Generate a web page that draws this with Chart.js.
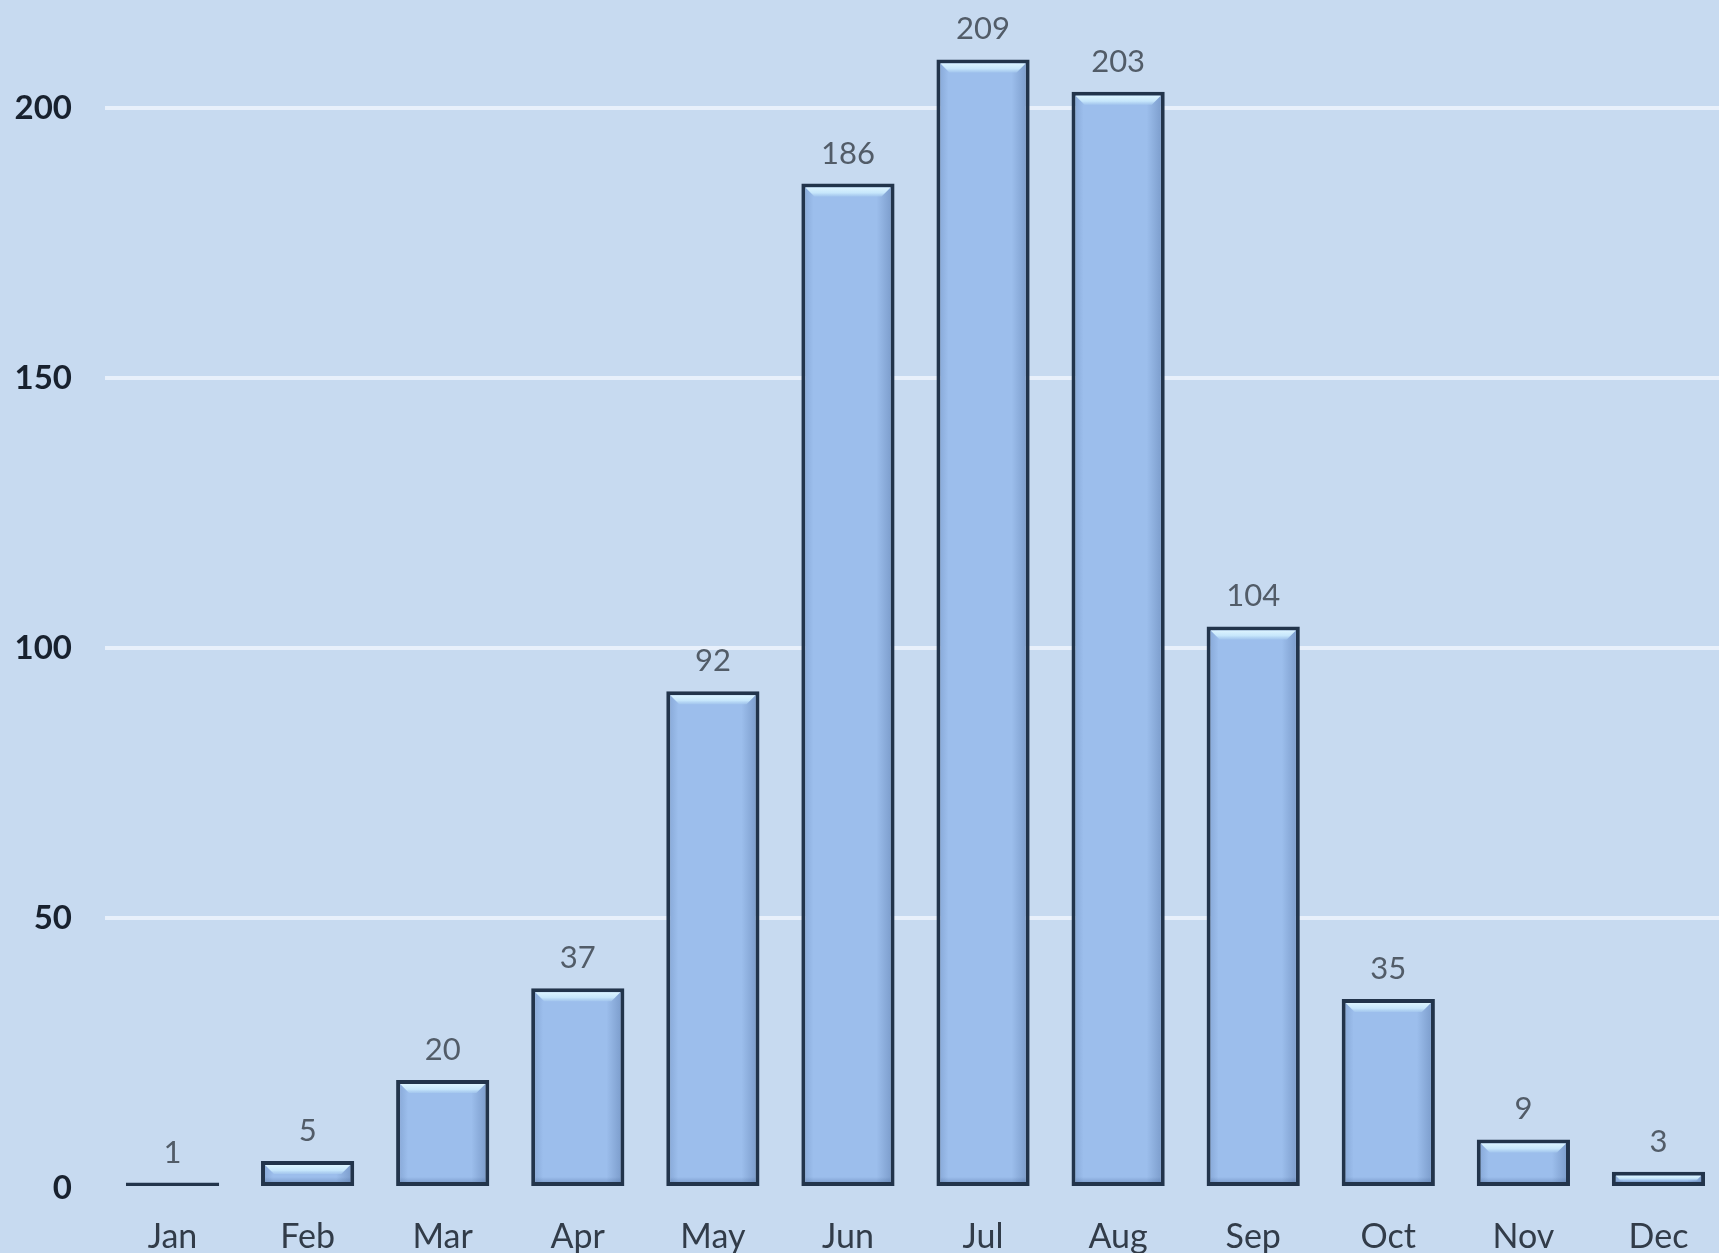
<!DOCTYPE html>
<html>
<head>
<meta charset="utf-8">
<script src="https://cdn.jsdelivr.net/npm/chart.js@4/dist/chart.umd.min.js"></script>
<style>
  html, body { margin: 0; padding: 0; overflow: hidden; background: #c7daf0; }
  #wrap { width: 1726px; height: 1253px; position: relative; }
</style>
</head>
<body>
<div id="wrap"><canvas id="chart"></canvas></div>
<script>
// Monthly counts
const months = ['Jan', 'Feb', 'Mar', 'Apr', 'May', 'Jun', 'Jul', 'Aug', 'Sep', 'Oct', 'Nov', 'Dec'];
const counts = [1, 5, 20, 37, 92, 186, 209, 203, 104, 35, 9, 3];
const yTicks = [0, 50, 100, 150, 200];

// Value labels above each bar
const valueLabels = {
  id: 'valueLabels',
  afterDatasetsDraw(chart) {
    const ctx = chart.ctx;
    const meta = chart.getDatasetMeta(0);
    ctx.save();
    ctx.font = '31px Lato';
    ctx.fillStyle = '#525c68';
    ctx.textAlign = 'center';
    ctx.textBaseline = 'middle';
    meta.data.forEach((bar, i) => {
      const p = bar.getProps(['x', 'y'], true);
      ctx.fillText(String(counts[i]), p.x, p.y - 30);
    });
    ctx.restore();
  }
};

// Bevel shading inside each bar: light top edge, darker right edge
const barBevel = {
  id: 'barBevel',
  afterDatasetsDraw(chart) {
    const ctx = chart.ctx;
    const meta = chart.getDatasetMeta(0);
    const bw = 4;
    ctx.save();
    meta.data.forEach((bar) => {
      const p = bar.getProps(['x', 'y', 'base', 'width'], true);
      const l = p.x - p.width / 2 + bw, r = p.x + p.width / 2 - bw;
      const t = Math.min(p.y, p.base) + bw, b = Math.max(p.y, p.base) - bw;
      if (b - t < 1) return;
      // right-side shade
      let g = ctx.createLinearGradient(r - 14, 0, r, 0);
      g.addColorStop(0, 'rgba(50,80,130,0)');
      g.addColorStop(1, 'rgba(50,80,130,0.28)');
      ctx.fillStyle = g;
      ctx.fillRect(r - 14, t, 14, b - t);
      // left-side soft shade
      g = ctx.createLinearGradient(l, 0, l + 8, 0);
      g.addColorStop(0, 'rgba(60,90,140,0.18)');
      g.addColorStop(1, 'rgba(60,90,140,0)');
      ctx.fillStyle = g;
      ctx.fillRect(l, t, 8, b - t);
      // bottom shade
      const bh = Math.min(5, (b - t) * 0.3);
      g = ctx.createLinearGradient(0, b - bh, 0, b);
      g.addColorStop(0, 'rgba(50,80,130,0)');
      g.addColorStop(1, 'rgba(50,80,130,0.25)');
      ctx.fillStyle = g;
      ctx.fillRect(l, b - bh, r - l, bh);
      // top highlight bevel
      const h = Math.min(9, (b - t) * 0.7);
      g = ctx.createLinearGradient(0, t, 0, t + h);
      g.addColorStop(0, '#dcf4ff');
      g.addColorStop(0.6, '#c6e6fb');
      g.addColorStop(1, 'rgba(170,205,240,0.6)');
      ctx.fillStyle = g;
      ctx.beginPath();
      ctx.moveTo(l, t);
      ctx.lineTo(r, t);
      ctx.lineTo(r - h, t + h);
      ctx.lineTo(l + h, t + h);
      ctx.closePath();
      ctx.fill();
    });
    ctx.restore();
  }
};

new Chart(document.getElementById('chart'), {
  type: 'bar',
  data: {
    labels: months,
    datasets: [{
      data: counts,
      backgroundColor: '#9cbeec',
      borderColor: '#22344b',
      borderWidth: 4,
      borderSkipped: false,
      barPercentage: 0.69,
      categoryPercentage: 1
    }]
  },
  options: {
    responsive: true,
    maintainAspectRatio: false,
    animation: false,
    layout: { padding: 0 },
    plugins: {
      legend: { display: false },
      tooltip: { enabled: false }
    },
    scales: {
      x: {
        offset: true,
        grid: { display: false, drawTicks: false },
        border: { display: false },
        ticks: {
          color: '#323c49',
          font: { family: 'Lato', size: 34 },
          padding: 29,
          maxRotation: 0
        },
        afterFit(scale) {
          scale.height = 65;
          scale.paddingLeft = 0;
          scale.paddingRight = 0;
        }
      },
      y: {
        min: 0,
        max: 220,
        afterBuildTicks(scale) {
          scale.ticks = yTicks.map(v => ({ value: v }));
        },
        grid: {
          drawTicks: false,
          lineWidth: 4,
          color: (c) => (c.tick && c.tick.value === 0) ? 'rgba(0,0,0,0)' : '#e8f0fb'
        },
        border: { display: false },
        ticks: {
          color: '#18212e',
          font: { family: 'Lato', size: 33, weight: 'bold' },
          padding: 33
        },
        afterFit(scale) {
          scale.width = 105;
          scale.paddingTop = 0;
          scale.paddingBottom = 0;
        }
      }
    }
  },
  plugins: [barBevel, valueLabels]
});
</script>
</body>
</html>
